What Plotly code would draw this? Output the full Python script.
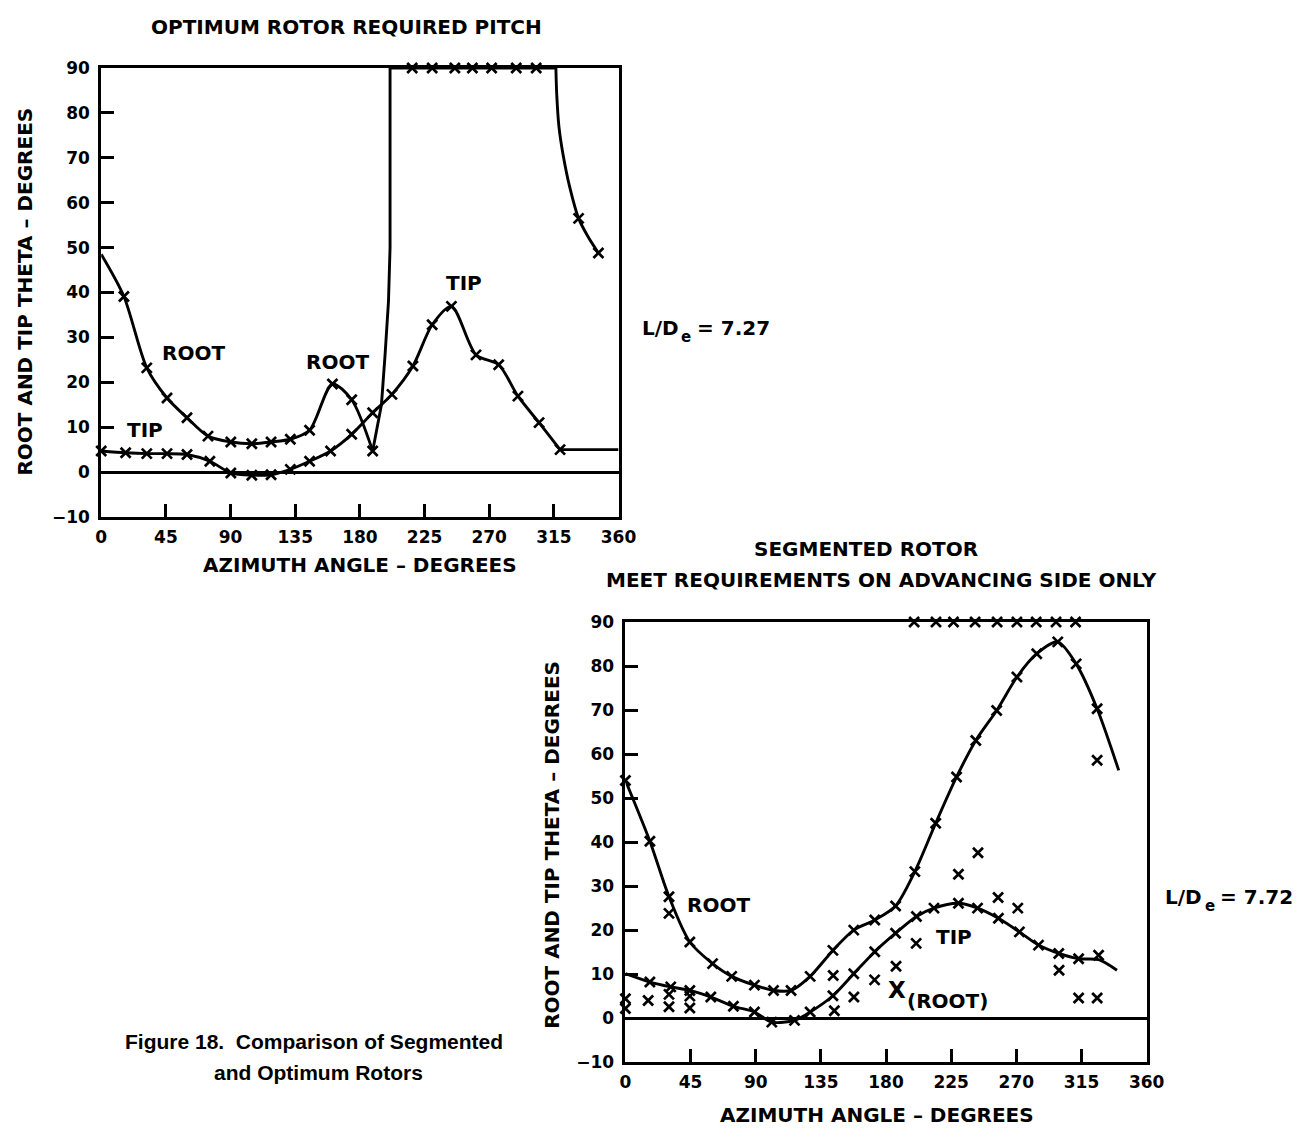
import plotly.graph_objects as go

W, H = 1307, 1138
FONT = "DejaVu Sans"
CAPTION_FONT = "Liberation Sans"

# ---------------- Upper panel: optimum rotor required pitch ----------------
# ROOT curve, smooth part (azimuth deg, theta deg)
opt_root_deg = [0, 15.8, 31.7, 45.8, 59.7, 74.3, 90.2, 104.8, 118.2, 131.6, 145.0, 160.9, 174.3, 188.9]
opt_root_val = [48.5, 39.1, 23.2, 16.5, 12.1, 8.0, 6.7, 6.3, 6.7, 7.3, 9.3, 19.6, 16.1, 4.7]
# ROOT steep climb to the 90 deg limit
opt_rise_deg = [188.9, 192.0, 195.0, 197.5, 199.9, 201.0, 201.0]
opt_rise_val = [4.7, 9.9, 15.0, 26.0, 38.0, 50.0, 90.0]
# ROOT held at 90 deg
opt_hold_deg = [201.0, 316.4]
opt_hold_val = [90, 90]
opt_hold_mark_deg = [216.4, 230.3, 246.1, 258.3, 271.7, 288.8, 302.7]
opt_hold_mark_val = [90, 90, 90, 90, 90, 90, 90]
# ROOT recovery after the hold
opt_tail_deg = [316.4, 317.0, 318.5, 321.5, 326.0, 332.2, 339.0, 346.0]
opt_tail_val = [90.0, 84.0, 77.0, 70.5, 63.5, 56.5, 52.3, 48.8]
opt_tail_mark_deg = [332.2, 346.0]
opt_tail_mark_val = [56.5, 48.8]

# TIP curve
opt_tip_deg = [0, 17.0, 31.7, 45.8, 59.7, 75.6, 90.2, 104.8, 118.2, 131.6, 145.0, 159.6,
               174.3, 188.9, 202.3, 216.9, 230.3, 243.7, 260.8, 276.6, 290.0, 304.7, 319.3]
opt_tip_val = [4.7, 4.3, 4.1, 4.1, 3.9, 2.4, -0.2, -0.7, -0.6, 0.6, 2.4, 4.7,
               8.4, 13.2, 17.3, 23.6, 32.8, 36.9, 26.1, 23.9, 16.9, 11.0, 5.0]
opt_tip_flat_deg = [319.3, 360]
opt_tip_flat_val = [5.0, 5.0]

# ---------------- Lower panel: segmented rotor ----------------
seg_root_deg = [0, 16.9, 30.1, 44.5, 60.2, 73.4, 89.1, 102.3, 114.4, 127.6, 143.3, 157.7, 172.2,
                186.6, 199.9, 214.3, 228.7, 242.0, 256.4, 270.4, 284.1, 298.6, 311.3, 325.8, 340.7]
seg_root_val = [54.0, 40.2, 27.6, 17.3, 12.4, 9.5, 7.5, 6.3, 6.3, 9.5, 15.4, 20.0, 22.3,
                25.5, 33.3, 44.3, 54.8, 63.1, 69.9, 77.5, 82.8, 85.5, 80.5, 70.3, 56.3]

seg_tip_deg = [0, 16.9, 31.3, 44.5, 59.0, 74.6, 89.1, 101.1, 116.8, 127.6, 143.3, 157.7, 172.2,
               186.6, 201.0, 213.1, 230.0, 243.2, 257.6, 272.1, 285.3, 299.3, 313.0, 326.8, 339.5]
seg_tip_val = [10.1, 8.2, 7.1, 6.3, 4.8, 2.7, 1.4, -0.9, -0.5, 1.4, 5.1, 10.1, 15.1,
               19.3, 23.1, 25.0, 26.1, 25.0, 22.7, 19.6, 16.6, 14.7, 13.5, 13.3, 10.9]
seg_tip_mark_deg = [16.9, 31.3, 44.5, 59.0, 74.6, 89.1, 101.1, 116.8, 127.6, 143.3, 157.7, 172.2,
                    186.6, 201.0, 213.1, 230.0, 243.2, 257.6, 272.1, 285.3, 299.3, 313.0, 326.8]
seg_tip_mark_val = [8.2, 7.1, 6.3, 4.8, 2.7, 1.4, -0.9, -0.5, 1.4, 5.1, 10.1, 15.1,
                    19.3, 23.1, 25.0, 26.1, 25.0, 22.7, 19.6, 16.6, 14.7, 13.5, 14.3]

# required root pitch held at the 90 deg limit
seg_limit_deg = [199.4, 214.5, 226.6, 241.5, 256.7, 270.4, 283.7, 297.4, 310.9]
seg_limit_val = [90, 90, 90, 90, 90, 90, 90, 90, 90]

# root pitch actually scheduled by the segmented rotor
seg_actual_deg = [0, 0, 15.7, 30.1, 30.1, 30.1, 44.5, 44.5, 143.5, 144.3, 157.8, 172.1, 186.9,
                  200.8, 230.0, 243.5, 257.4, 271.0, 299.5, 313.0, 325.8, 325.8]
seg_actual_val = [4.4, 2.2, 4.0, 23.8, 5.4, 2.6, 5.0, 2.3, 9.7, 1.7, 4.8, 8.7, 11.8,
                  17.0, 32.7, 37.6, 27.4, 25.0, 10.9, 4.6, 4.6, 58.6]

x_ticks = [0, 45, 90, 135, 180, 225, 270, 315, 360]
y_ticks = [-10, 0, 10, 20, 30, 40, 50, 60, 70, 80, 90]

fig = go.Figure()

LINE = dict(color="black", width=2.9)
MARK = dict(symbol="x-thin", size=10, color="black", line=dict(color="black", width=2.7))


def curve(xs, ys, ax, shape="spline", smoothing=0.8):
    fig.add_trace(go.Scatter(
        x=xs, y=ys, mode="lines", line=dict(LINE, shape=shape, smoothing=smoothing),
        xaxis="x" + ax, yaxis="y" + ax, showlegend=False, hoverinfo="skip"))


def marks(xs, ys, ax):
    fig.add_trace(go.Scatter(
        x=xs, y=ys, mode="markers", marker=MARK, cliponaxis=False,
        xaxis="x" + ax, yaxis="y" + ax, showlegend=False, hoverinfo="skip"))


# upper panel
curve(opt_root_deg, opt_root_val, "")
marks(opt_root_deg[1:], opt_root_val[1:], "")
curve(opt_rise_deg, opt_rise_val, "", shape="linear")
curve(opt_hold_deg, opt_hold_val, "", shape="linear")
marks(opt_hold_mark_deg, opt_hold_mark_val, "")
curve(opt_tail_deg, opt_tail_val, "")
marks(opt_tail_mark_deg, opt_tail_mark_val, "")
curve(opt_tip_deg, opt_tip_val, "")
marks(opt_tip_deg, opt_tip_val, "")
curve(opt_tip_flat_deg, opt_tip_flat_val, "", shape="linear")

# lower panel
curve(seg_root_deg, seg_root_val, "2")
marks(seg_root_deg[:-1], seg_root_val[:-1], "2")
curve(seg_tip_deg, seg_tip_val, "2")
marks(seg_tip_mark_deg, seg_tip_mark_val, "2")
marks(seg_limit_deg, seg_limit_val, "2")
marks(seg_actual_deg, seg_actual_val, "2")

TICK_FONT = dict(family=FONT, size=17, color="black", weight="bold")
LABEL_SIZE = 20


def axis_common():
    return dict(showline=True, linecolor="black", linewidth=2.8, mirror=True,
                ticks="inside", ticklen=13, tickwidth=2.6, tickcolor="black",
                showgrid=False, fixedrange=True, tickfont=TICK_FONT)


def xaxis(dom, anchor):
    a = axis_common()
    a.update(domain=dom, range=[0, 360], tickmode="array", tickvals=x_ticks,
             zeroline=False, anchor=anchor, ticklabelstandoff=3)
    return a


def yaxis(dom, anchor):
    a = axis_common()
    a.update(domain=dom, range=[-10, 90], tickmode="array", tickvals=y_ticks,
             zeroline=True, zerolinecolor="black", zerolinewidth=2.6, anchor=anchor,
             ticklabelstandoff=5)
    return a


fig.update_layout(
    width=W, height=H, autosize=False,
    margin=dict(l=0, r=0, t=0, b=0),
    paper_bgcolor="white", plot_bgcolor="white",
    font=TICK_FONT,
    xaxis=xaxis([97 / W, 624 / W], "y"),
    yaxis=yaxis([1 - 516 / H, 1 - 59 / H], "x"),
    xaxis2=xaxis([631 / W, 1162 / W], "y2"),
    yaxis2=yaxis([1 - 1071 / H, 1 - 623 / H], "x2"),
)

ann = []


def paper_text(text, px, py, size=LABEL_SIZE, angle=0, xanchor="center", family=FONT):
    ann.append(dict(text=text, x=px / W, y=1 - py / H,
                    xref="paper", yref="paper", showarrow=False, textangle=angle,
                    xanchor=xanchor, yanchor="middle", borderpad=0,
                    font=dict(family=family, size=size, color="black", weight="bold")))


def data_text(text, x, y, ax, size=LABEL_SIZE, xanchor="center"):
    ann.append(dict(text=text, x=x, y=y, xref="x" + ax, yref="y" + ax, showarrow=False,
                    xanchor=xanchor, yanchor="middle", borderpad=0,
                    font=dict(family=FONT, size=size, color="black", weight="bold")))


def lift_drag(value, left, py):
    # "L/D" with a lowered subscript "e", then the ratio value
    paper_text("L/D", left, py, xanchor="left")
    paper_text("e", left + 40, py + 9, size=15, xanchor="left")
    paper_text("= " + value, left + 56, py, xanchor="left")


# titles and axis titles
paper_text("OPTIMUM ROTOR REQUIRED PITCH", 347, 17)
paper_text("AZIMUTH ANGLE – DEGREES", 361, 565)
paper_text("ROOT AND TIP THETA – DEGREES", 19, 287, angle=-90)
lift_drag("7.27", 647, 324)

paper_text("SEGMENTED ROTOR", 876, 549)
paper_text("MEET REQUIREMENTS ON ADVANCING SIDE ONLY", 892, 580)
paper_text("AZIMUTH ANGLE – DEGREES", 887, 1125)
paper_text("ROOT AND TIP THETA – DEGREES", 556, 850, angle=-90)
lift_drag("7.72", 1180, 903)

paper_text("Figure 18.  Comparison of Segmented", 120, 1050, size=21, xanchor="left",
           family=CAPTION_FONT)
paper_text("and Optimum Rotors", 211, 1081, size=21, xanchor="left", family=CAPTION_FONT)

# curve labels
data_text("ROOT", 63.9, 26.5, "")
data_text("ROOT", 164.5, 24.5, "")
data_text("TIP", 252.3, 42.0, "")
data_text("TIP", 30.5, 9.3, "")

data_text("ROOT", 64.3, 25.7, "2")
data_text("TIP", 227.0, 18.5, "2")
data_text("X", 187.5, 6.3, "2", size=23)
data_text("(ROOT)", 194.0, 4.0, "2", xanchor="left")

fig.update_layout(annotations=ann)

fig.write_html("out.html")
